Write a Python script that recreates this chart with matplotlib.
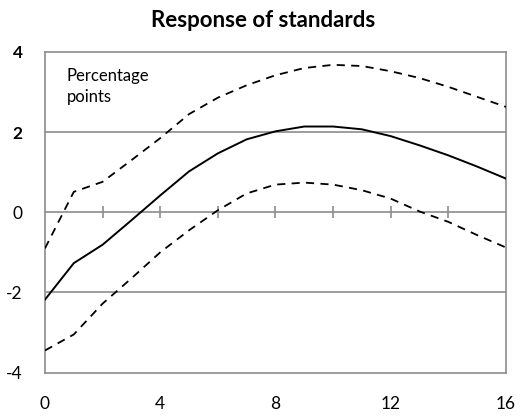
import matplotlib
matplotlib.use("Agg")
import matplotlib.pyplot as plt

plt.rcParams['font.family'] = ['Lato', 'DejaVu Sans']

# quarters after the shock
horizon = list(range(17))
# central response and error bands (percentage points)
central = [-2.18, -1.27, -0.81, -0.2, 0.42, 1.02, 1.47, 1.82, 2.02, 2.14,
           2.14, 2.07, 1.9, 1.67, 1.42, 1.14, 0.84]
upper = [-0.9, 0.51, 0.76, 1.3, 1.85, 2.45, 2.86, 3.17, 3.42, 3.6,
         3.68, 3.65, 3.52, 3.35, 3.13, 2.88, 2.63]
lower = [-3.45, -3.05, -2.28, -1.65, -1.0, -0.45, 0.05, 0.47, 0.69, 0.74,
         0.69, 0.55, 0.34, 0.02, -0.24, -0.57, -0.88]
x_ticks = [0, 4, 8, 12, 16]
y_ticks = [-4, -2, 0, 2, 4]
minor_ticks = [2, 4, 6, 8, 10, 12, 14]

grey = '#8c8c8c'

fig = plt.figure(figsize=(5.22, 4.17), dpi=100)
ax = fig.add_axes([0.0862, 0.1067, 0.8831, 0.7686])

for y in [-2, 0, 2]:
    ax.axhline(y, color=grey, lw=1.2, zorder=1)
ax.vlines(minor_ticks, -0.15, 0.15, color=grey, lw=1.2, zorder=1)

ax.plot(horizon, central, color='black', lw=1.4, zorder=3)
ax.plot(horizon, upper, color='black', lw=1.3, dashes=(4.5, 3.5), zorder=3)
ax.plot(horizon, lower, color='black', lw=1.3, dashes=(4.5, 3.5), zorder=3)

ax.set_xlim(0, 16)
ax.set_ylim(-4, 4)
ax.set_xticks(x_ticks)
ax.set_yticks(y_ticks)
ax.set_xticklabels([str(v) for v in x_ticks], fontsize=12.5)
ax.set_yticklabels([str(v) for v in y_ticks], fontsize=12.5)
for lab in ax.get_yticklabels():
    if lab.get_text() in ('2', '4'):
        lab.set_fontweight('bold')
ax.tick_params(axis='both', length=0, colors='black')
ax.tick_params(axis='x', pad=17)
ax.tick_params(axis='y', pad=16)

for s in ax.spines.values():
    s.set_color(grey)
    s.set_linewidth(1.2)

ax.text(0.75, 3.6, 'Percentage\npoints', fontsize=12, va='top', ha='left',
        linespacing=1.4)

fig.text(0.504, 0.952, 'Response of standards', fontsize=16, fontweight='bold',
         ha='center', va='center')

fig.savefig('out.png', dpi=100)
